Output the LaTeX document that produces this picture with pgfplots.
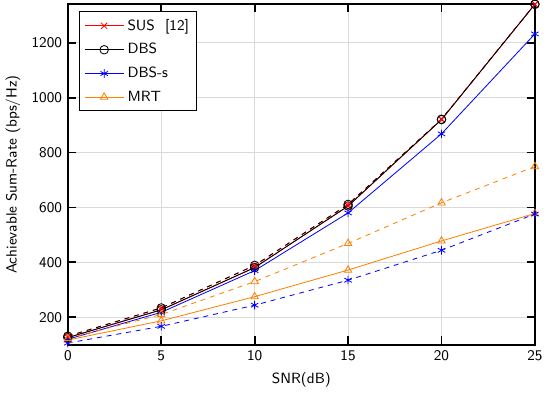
\documentclass[border=0pt]{standalone}
\usepackage{pgfplots}
\pgfplotsset{compat=1.18}
\renewcommand{\familydefault}{\sfdefault}
\definecolor{mrtorange}{rgb}{1,0.5,0}
\begin{document}
\begin{tikzpicture}
\begin{axis}[width=284pt,height=207pt,scale only axis,
  xmin=0,xmax=25,ymin=100,ymax=1340,
  xtick={0,5,10,15,20,25},ytick={200,400,600,800,1000,1200},
  xlabel={SNR(dB)},ylabel={Achievable Sum-Rate (bps/Hz)},
  grid=major,grid style={black!15,line width=0.6pt},
  axis line style={black,line width=1.1pt},
  tick style={black,line width=1.1pt},major tick length=5pt,
  tick align=inside,
  /pgf/number format/assume math mode=true,
  /pgf/number format/1000 sep={},
  tick label style={font=\small},label style={font=\small},
  legend style={at={(0.025,0.98)},anchor=north west,font=\small,draw=black,line width=0.6pt,
    row sep=2.5pt,inner sep=2.5pt},
  legend cell align=left,
  legend image code/.code={\draw[mark repeat=2,mark phase=2] plot coordinates {(0cm,0cm) (0.42cm,0cm) (0.84cm,0cm)};},
  every axis plot/.append style={line width=0.5pt,mark size=2.6pt,mark options={solid}}]
\addplot[red,mark=x] coordinates {(0,126) (5,227) (10,381) (15,605) (20,920) (25,1340)};
\addlegendentry{SUS\ \ [12]}
\addplot[black,mark=o] coordinates {(0,126) (5,227) (10,381) (15,605) (20,920) (25,1340)};
\addlegendentry{DBS}
\addplot[blue,mark=asterisk] coordinates {(0,120) (5,218) (10,370) (15,580) (20,868) (25,1232)};
\addlegendentry{DBS-s}
\addplot[mrtorange,mark=triangle] coordinates {(0,117) (5,187) (10,275) (15,372) (20,478) (25,578)};
\addlegendentry{MRT}
\addplot[red,dashed,mark=x,forget plot] coordinates {(0,131) (5,234) (10,389) (15,611) (20,921) (25,1340)};
\addplot[black,dashed,mark=o,forget plot] coordinates {(0,131) (5,234) (10,389) (15,611) (20,921) (25,1340)};
\addplot[blue,dashed,mark=asterisk,forget plot] coordinates {(0,106) (5,167) (10,244) (15,335) (20,444) (25,576)};
\addplot[mrtorange,dashed,mark=triangle,forget plot] coordinates {(0,123) (5,210) (10,330) (15,469) (20,617) (25,749)};
\end{axis}
\end{tikzpicture}
\end{document}
